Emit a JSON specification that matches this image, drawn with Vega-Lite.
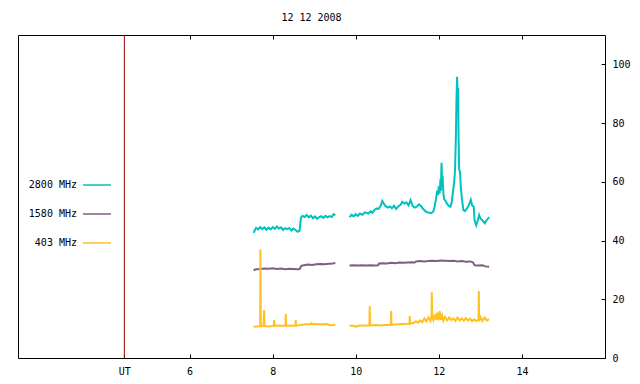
{
  "$schema": "https://vega.github.io/schema/vega-lite/v6.json",
  "width": 587,
  "height": 323,
  "autosize": {"type": "none"},
  "padding": {"left": 18, "top": 35, "right": 35, "bottom": 26},
  "background": "white",
  "config": {
    "view": {"stroke": "#000000", "strokeWidth": 1},
    "font": "DejaVu Sans Mono",
    "title": {"font": "DejaVu Sans Mono", "fontSize": 10, "fontWeight": "normal", "color": "#000000", "offset": 12},
    "axis": {"labelFont": "DejaVu Sans Mono", "labelFontSize": 10, "labelColor": "#000000", "tickColor": "#000000", "domain": false, "grid": false, "title": null}
  },
  "title": {"text": "12 12 2008", "anchor": "middle", "frame": "group"},
  "datasets": {
    "flux": [
      {"band": "2800 MHz", "seg": "a", "t": 7.54, "v": 42.6},
      {"band": "2800 MHz", "seg": "a", "t": 7.57, "v": 43.5},
      {"band": "2800 MHz", "seg": "a", "t": 7.60, "v": 44.3},
      {"band": "2800 MHz", "seg": "a", "t": 7.65, "v": 43.8},
      {"band": "2800 MHz", "seg": "a", "t": 7.70, "v": 44.6},
      {"band": "2800 MHz", "seg": "a", "t": 7.75, "v": 43.9},
      {"band": "2800 MHz", "seg": "a", "t": 7.80, "v": 44.5},
      {"band": "2800 MHz", "seg": "a", "t": 7.85, "v": 43.7},
      {"band": "2800 MHz", "seg": "a", "t": 7.90, "v": 44.4},
      {"band": "2800 MHz", "seg": "a", "t": 7.95, "v": 43.8},
      {"band": "2800 MHz", "seg": "a", "t": 8.00, "v": 44.6},
      {"band": "2800 MHz", "seg": "a", "t": 8.05, "v": 44.0},
      {"band": "2800 MHz", "seg": "a", "t": 8.10, "v": 44.8},
      {"band": "2800 MHz", "seg": "a", "t": 8.15, "v": 44.1},
      {"band": "2800 MHz", "seg": "a", "t": 8.20, "v": 44.5},
      {"band": "2800 MHz", "seg": "a", "t": 8.25, "v": 43.6},
      {"band": "2800 MHz", "seg": "a", "t": 8.30, "v": 44.2},
      {"band": "2800 MHz", "seg": "a", "t": 8.35, "v": 43.9},
      {"band": "2800 MHz", "seg": "a", "t": 8.40, "v": 44.3},
      {"band": "2800 MHz", "seg": "a", "t": 8.45, "v": 43.4},
      {"band": "2800 MHz", "seg": "a", "t": 8.50, "v": 44.1},
      {"band": "2800 MHz", "seg": "a", "t": 8.55, "v": 43.6},
      {"band": "2800 MHz", "seg": "a", "t": 8.60, "v": 43.0},
      {"band": "2800 MHz", "seg": "a", "t": 8.65, "v": 43.4},
      {"band": "2800 MHz", "seg": "a", "t": 8.68, "v": 47.8},
      {"band": "2800 MHz", "seg": "a", "t": 8.72, "v": 48.4},
      {"band": "2800 MHz", "seg": "a", "t": 8.77, "v": 48.0},
      {"band": "2800 MHz", "seg": "a", "t": 8.82, "v": 48.7},
      {"band": "2800 MHz", "seg": "a", "t": 8.87, "v": 47.9},
      {"band": "2800 MHz", "seg": "a", "t": 8.92, "v": 48.5},
      {"band": "2800 MHz", "seg": "a", "t": 8.97, "v": 47.6},
      {"band": "2800 MHz", "seg": "a", "t": 9.02, "v": 48.2},
      {"band": "2800 MHz", "seg": "a", "t": 9.07, "v": 47.4},
      {"band": "2800 MHz", "seg": "a", "t": 9.12, "v": 48.0},
      {"band": "2800 MHz", "seg": "a", "t": 9.17, "v": 48.3},
      {"band": "2800 MHz", "seg": "a", "t": 9.22, "v": 47.7},
      {"band": "2800 MHz", "seg": "a", "t": 9.27, "v": 48.4},
      {"band": "2800 MHz", "seg": "a", "t": 9.32, "v": 47.9},
      {"band": "2800 MHz", "seg": "a", "t": 9.37, "v": 48.3},
      {"band": "2800 MHz", "seg": "a", "t": 9.42, "v": 48.0},
      {"band": "2800 MHz", "seg": "a", "t": 9.47, "v": 49.0},
      {"band": "2800 MHz", "seg": "a", "t": 9.51, "v": 48.6},
      {"band": "2800 MHz", "seg": "b", "t": 9.85, "v": 48.0},
      {"band": "2800 MHz", "seg": "b", "t": 9.90, "v": 48.8},
      {"band": "2800 MHz", "seg": "b", "t": 9.95, "v": 48.2},
      {"band": "2800 MHz", "seg": "b", "t": 10.00, "v": 49.0},
      {"band": "2800 MHz", "seg": "b", "t": 10.05, "v": 48.4},
      {"band": "2800 MHz", "seg": "b", "t": 10.10, "v": 49.2},
      {"band": "2800 MHz", "seg": "b", "t": 10.16, "v": 48.8},
      {"band": "2800 MHz", "seg": "b", "t": 10.22, "v": 49.6},
      {"band": "2800 MHz", "seg": "b", "t": 10.30, "v": 49.2},
      {"band": "2800 MHz", "seg": "b", "t": 10.36, "v": 50.0},
      {"band": "2800 MHz", "seg": "b", "t": 10.40, "v": 49.4},
      {"band": "2800 MHz", "seg": "b", "t": 10.45, "v": 50.4},
      {"band": "2800 MHz", "seg": "b", "t": 10.50, "v": 50.9},
      {"band": "2800 MHz", "seg": "b", "t": 10.55, "v": 50.8},
      {"band": "2800 MHz", "seg": "b", "t": 10.60, "v": 51.8},
      {"band": "2800 MHz", "seg": "b", "t": 10.64, "v": 53.5},
      {"band": "2800 MHz", "seg": "b", "t": 10.68, "v": 52.5},
      {"band": "2800 MHz", "seg": "b", "t": 10.72, "v": 51.7},
      {"band": "2800 MHz", "seg": "b", "t": 10.77, "v": 51.2},
      {"band": "2800 MHz", "seg": "b", "t": 10.82, "v": 51.6},
      {"band": "2800 MHz", "seg": "b", "t": 10.87, "v": 51.0},
      {"band": "2800 MHz", "seg": "b", "t": 10.92, "v": 51.9},
      {"band": "2800 MHz", "seg": "b", "t": 10.97, "v": 50.8},
      {"band": "2800 MHz", "seg": "b", "t": 11.02, "v": 51.6},
      {"band": "2800 MHz", "seg": "b", "t": 11.08, "v": 52.2},
      {"band": "2800 MHz", "seg": "b", "t": 11.12, "v": 53.2},
      {"band": "2800 MHz", "seg": "b", "t": 11.17, "v": 52.6},
      {"band": "2800 MHz", "seg": "b", "t": 11.22, "v": 53.0},
      {"band": "2800 MHz", "seg": "b", "t": 11.27, "v": 52.0},
      {"band": "2800 MHz", "seg": "b", "t": 11.32, "v": 53.8},
      {"band": "2800 MHz", "seg": "b", "t": 11.37, "v": 51.8},
      {"band": "2800 MHz", "seg": "b", "t": 11.42, "v": 51.2},
      {"band": "2800 MHz", "seg": "b", "t": 11.47, "v": 51.5},
      {"band": "2800 MHz", "seg": "b", "t": 11.52, "v": 52.3},
      {"band": "2800 MHz", "seg": "b", "t": 11.57, "v": 51.8},
      {"band": "2800 MHz", "seg": "b", "t": 11.62, "v": 50.8},
      {"band": "2800 MHz", "seg": "b", "t": 11.67, "v": 50.1},
      {"band": "2800 MHz", "seg": "b", "t": 11.72, "v": 49.6},
      {"band": "2800 MHz", "seg": "b", "t": 11.77, "v": 49.5},
      {"band": "2800 MHz", "seg": "b", "t": 11.82, "v": 49.3},
      {"band": "2800 MHz", "seg": "b", "t": 11.87, "v": 50.0},
      {"band": "2800 MHz", "seg": "b", "t": 11.90, "v": 51.7},
      {"band": "2800 MHz", "seg": "b", "t": 11.93, "v": 54.0},
      {"band": "2800 MHz", "seg": "b", "t": 11.96, "v": 57.0},
      {"band": "2800 MHz", "seg": "b", "t": 11.98, "v": 55.5},
      {"band": "2800 MHz", "seg": "b", "t": 12.00, "v": 58.5},
      {"band": "2800 MHz", "seg": "b", "t": 12.02, "v": 56.0},
      {"band": "2800 MHz", "seg": "b", "t": 12.04, "v": 61.0},
      {"band": "2800 MHz", "seg": "b", "t": 12.05, "v": 57.0},
      {"band": "2800 MHz", "seg": "b", "t": 12.065, "v": 66.5},
      {"band": "2800 MHz", "seg": "b", "t": 12.08, "v": 59.0},
      {"band": "2800 MHz", "seg": "b", "t": 12.09, "v": 62.0},
      {"band": "2800 MHz", "seg": "b", "t": 12.11, "v": 56.0},
      {"band": "2800 MHz", "seg": "b", "t": 12.13, "v": 54.0},
      {"band": "2800 MHz", "seg": "b", "t": 12.16, "v": 53.5},
      {"band": "2800 MHz", "seg": "b", "t": 12.20, "v": 52.5},
      {"band": "2800 MHz", "seg": "b", "t": 12.24, "v": 51.8},
      {"band": "2800 MHz", "seg": "b", "t": 12.28, "v": 51.5},
      {"band": "2800 MHz", "seg": "b", "t": 12.31, "v": 53.0},
      {"band": "2800 MHz", "seg": "b", "t": 12.34, "v": 56.5},
      {"band": "2800 MHz", "seg": "b", "t": 12.37, "v": 60.0},
      {"band": "2800 MHz", "seg": "b", "t": 12.39, "v": 64.0},
      {"band": "2800 MHz", "seg": "b", "t": 12.41, "v": 75.0},
      {"band": "2800 MHz", "seg": "b", "t": 12.425, "v": 88.0},
      {"band": "2800 MHz", "seg": "b", "t": 12.44, "v": 95.8},
      {"band": "2800 MHz", "seg": "b", "t": 12.45, "v": 90.0},
      {"band": "2800 MHz", "seg": "b", "t": 12.465, "v": 92.0},
      {"band": "2800 MHz", "seg": "b", "t": 12.475, "v": 75.0},
      {"band": "2800 MHz", "seg": "b", "t": 12.49, "v": 64.0},
      {"band": "2800 MHz", "seg": "b", "t": 12.51, "v": 63.5},
      {"band": "2800 MHz", "seg": "b", "t": 12.53, "v": 58.0},
      {"band": "2800 MHz", "seg": "b", "t": 12.55, "v": 55.0},
      {"band": "2800 MHz", "seg": "b", "t": 12.59, "v": 50.4},
      {"band": "2800 MHz", "seg": "b", "t": 12.63, "v": 50.0},
      {"band": "2800 MHz", "seg": "b", "t": 12.68, "v": 51.0},
      {"band": "2800 MHz", "seg": "b", "t": 12.72, "v": 52.0},
      {"band": "2800 MHz", "seg": "b", "t": 12.77, "v": 53.9},
      {"band": "2800 MHz", "seg": "b", "t": 12.80, "v": 52.0},
      {"band": "2800 MHz", "seg": "b", "t": 12.84, "v": 51.5},
      {"band": "2800 MHz", "seg": "b", "t": 12.86, "v": 47.0},
      {"band": "2800 MHz", "seg": "b", "t": 12.90, "v": 45.2},
      {"band": "2800 MHz", "seg": "b", "t": 12.93, "v": 46.5},
      {"band": "2800 MHz", "seg": "b", "t": 12.97, "v": 48.7},
      {"band": "2800 MHz", "seg": "b", "t": 13.00, "v": 47.5},
      {"band": "2800 MHz", "seg": "b", "t": 13.04, "v": 47.0},
      {"band": "2800 MHz", "seg": "b", "t": 13.08, "v": 46.3},
      {"band": "2800 MHz", "seg": "b", "t": 13.11, "v": 45.9},
      {"band": "2800 MHz", "seg": "b", "t": 13.14, "v": 46.8},
      {"band": "2800 MHz", "seg": "b", "t": 13.17, "v": 47.2},
      {"band": "2800 MHz", "seg": "b", "t": 13.21, "v": 48.0},
      {"band": "1580 MHz", "seg": "a", "t": 7.54, "v": 29.9},
      {"band": "1580 MHz", "seg": "a", "t": 7.60, "v": 30.2},
      {"band": "1580 MHz", "seg": "a", "t": 7.70, "v": 30.3},
      {"band": "1580 MHz", "seg": "a", "t": 7.80, "v": 30.5},
      {"band": "1580 MHz", "seg": "a", "t": 7.90, "v": 30.4},
      {"band": "1580 MHz", "seg": "a", "t": 8.00, "v": 30.6},
      {"band": "1580 MHz", "seg": "a", "t": 8.10, "v": 30.3},
      {"band": "1580 MHz", "seg": "a", "t": 8.20, "v": 30.5},
      {"band": "1580 MHz", "seg": "a", "t": 8.30, "v": 30.2},
      {"band": "1580 MHz", "seg": "a", "t": 8.40, "v": 30.4},
      {"band": "1580 MHz", "seg": "a", "t": 8.50, "v": 30.3},
      {"band": "1580 MHz", "seg": "a", "t": 8.60, "v": 30.2},
      {"band": "1580 MHz", "seg": "a", "t": 8.65, "v": 30.3},
      {"band": "1580 MHz", "seg": "a", "t": 8.69, "v": 31.4},
      {"band": "1580 MHz", "seg": "a", "t": 8.75, "v": 31.6},
      {"band": "1580 MHz", "seg": "a", "t": 8.85, "v": 31.8},
      {"band": "1580 MHz", "seg": "a", "t": 8.95, "v": 31.7},
      {"band": "1580 MHz", "seg": "a", "t": 9.05, "v": 31.9},
      {"band": "1580 MHz", "seg": "a", "t": 9.15, "v": 32.0},
      {"band": "1580 MHz", "seg": "a", "t": 9.25, "v": 31.9},
      {"band": "1580 MHz", "seg": "a", "t": 9.35, "v": 32.1},
      {"band": "1580 MHz", "seg": "a", "t": 9.45, "v": 32.2},
      {"band": "1580 MHz", "seg": "a", "t": 9.51, "v": 32.4},
      {"band": "1580 MHz", "seg": "b", "t": 9.85, "v": 31.5},
      {"band": "1580 MHz", "seg": "b", "t": 9.95, "v": 31.6},
      {"band": "1580 MHz", "seg": "b", "t": 10.05, "v": 31.5},
      {"band": "1580 MHz", "seg": "b", "t": 10.15, "v": 31.6},
      {"band": "1580 MHz", "seg": "b", "t": 10.25, "v": 31.5},
      {"band": "1580 MHz", "seg": "b", "t": 10.35, "v": 31.6},
      {"band": "1580 MHz", "seg": "b", "t": 10.45, "v": 31.5},
      {"band": "1580 MHz", "seg": "b", "t": 10.54, "v": 31.6},
      {"band": "1580 MHz", "seg": "b", "t": 10.56, "v": 32.2},
      {"band": "1580 MHz", "seg": "b", "t": 10.65, "v": 32.3},
      {"band": "1580 MHz", "seg": "b", "t": 10.75, "v": 32.2},
      {"band": "1580 MHz", "seg": "b", "t": 10.85, "v": 32.4},
      {"band": "1580 MHz", "seg": "b", "t": 10.95, "v": 32.3},
      {"band": "1580 MHz", "seg": "b", "t": 11.05, "v": 32.5},
      {"band": "1580 MHz", "seg": "b", "t": 11.15, "v": 32.4},
      {"band": "1580 MHz", "seg": "b", "t": 11.25, "v": 32.5},
      {"band": "1580 MHz", "seg": "b", "t": 11.35, "v": 32.6},
      {"band": "1580 MHz", "seg": "b", "t": 11.42, "v": 32.5},
      {"band": "1580 MHz", "seg": "b", "t": 11.45, "v": 32.9},
      {"band": "1580 MHz", "seg": "b", "t": 11.55, "v": 33.0},
      {"band": "1580 MHz", "seg": "b", "t": 11.65, "v": 32.9},
      {"band": "1580 MHz", "seg": "b", "t": 11.75, "v": 33.0},
      {"band": "1580 MHz", "seg": "b", "t": 11.85, "v": 33.1},
      {"band": "1580 MHz", "seg": "b", "t": 11.95, "v": 33.0},
      {"band": "1580 MHz", "seg": "b", "t": 12.05, "v": 33.2},
      {"band": "1580 MHz", "seg": "b", "t": 12.15, "v": 33.1},
      {"band": "1580 MHz", "seg": "b", "t": 12.25, "v": 33.0},
      {"band": "1580 MHz", "seg": "b", "t": 12.35, "v": 33.1},
      {"band": "1580 MHz", "seg": "b", "t": 12.45, "v": 32.9},
      {"band": "1580 MHz", "seg": "b", "t": 12.55, "v": 33.0},
      {"band": "1580 MHz", "seg": "b", "t": 12.65, "v": 32.8},
      {"band": "1580 MHz", "seg": "b", "t": 12.75, "v": 32.9},
      {"band": "1580 MHz", "seg": "b", "t": 12.82, "v": 32.6},
      {"band": "1580 MHz", "seg": "b", "t": 12.86, "v": 31.6},
      {"band": "1580 MHz", "seg": "b", "t": 12.95, "v": 31.5},
      {"band": "1580 MHz", "seg": "b", "t": 13.05, "v": 31.6},
      {"band": "1580 MHz", "seg": "b", "t": 13.12, "v": 31.2},
      {"band": "1580 MHz", "seg": "b", "t": 13.21, "v": 31.1},
      {"band": "403 MHz", "seg": "a", "t": 7.54, "v": 10.6},
      {"band": "403 MHz", "seg": "a", "t": 7.60, "v": 10.7},
      {"band": "403 MHz", "seg": "a", "t": 7.70, "v": 10.8},
      {"band": "403 MHz", "seg": "a", "t": 7.705, "v": 37.0},
      {"band": "403 MHz", "seg": "a", "t": 7.715, "v": 11.0},
      {"band": "403 MHz", "seg": "a", "t": 7.78, "v": 10.9},
      {"band": "403 MHz", "seg": "a", "t": 7.795, "v": 16.3},
      {"band": "403 MHz", "seg": "a", "t": 7.805, "v": 10.9},
      {"band": "403 MHz", "seg": "a", "t": 7.90, "v": 10.7},
      {"band": "403 MHz", "seg": "a", "t": 7.95, "v": 10.8},
      {"band": "403 MHz", "seg": "a", "t": 8.03, "v": 11.0},
      {"band": "403 MHz", "seg": "a", "t": 8.035, "v": 12.9},
      {"band": "403 MHz", "seg": "a", "t": 8.045, "v": 11.0},
      {"band": "403 MHz", "seg": "a", "t": 8.15, "v": 11.1},
      {"band": "403 MHz", "seg": "a", "t": 8.20, "v": 11.0},
      {"band": "403 MHz", "seg": "a", "t": 8.31, "v": 11.0},
      {"band": "403 MHz", "seg": "a", "t": 8.315, "v": 15.0},
      {"band": "403 MHz", "seg": "a", "t": 8.325, "v": 11.0},
      {"band": "403 MHz", "seg": "a", "t": 8.45, "v": 11.1},
      {"band": "403 MHz", "seg": "a", "t": 8.55, "v": 11.0},
      {"band": "403 MHz", "seg": "a", "t": 8.555, "v": 12.9},
      {"band": "403 MHz", "seg": "a", "t": 8.565, "v": 11.0},
      {"band": "403 MHz", "seg": "a", "t": 8.70, "v": 11.3},
      {"band": "403 MHz", "seg": "a", "t": 8.80, "v": 11.5},
      {"band": "403 MHz", "seg": "a", "t": 8.93, "v": 11.6},
      {"band": "403 MHz", "seg": "a", "t": 8.935, "v": 12.1},
      {"band": "403 MHz", "seg": "a", "t": 8.945, "v": 11.5},
      {"band": "403 MHz", "seg": "a", "t": 9.05, "v": 11.6},
      {"band": "403 MHz", "seg": "a", "t": 9.20, "v": 11.4},
      {"band": "403 MHz", "seg": "a", "t": 9.30, "v": 11.6},
      {"band": "403 MHz", "seg": "a", "t": 9.40, "v": 11.1},
      {"band": "403 MHz", "seg": "a", "t": 9.51, "v": 11.4},
      {"band": "403 MHz", "seg": "b", "t": 9.85, "v": 11.0},
      {"band": "403 MHz", "seg": "b", "t": 9.95, "v": 11.0},
      {"band": "403 MHz", "seg": "b", "t": 10.00, "v": 10.6},
      {"band": "403 MHz", "seg": "b", "t": 10.05, "v": 11.0},
      {"band": "403 MHz", "seg": "b", "t": 10.20, "v": 11.1},
      {"band": "403 MHz", "seg": "b", "t": 10.33, "v": 11.1},
      {"band": "403 MHz", "seg": "b", "t": 10.337, "v": 17.7},
      {"band": "403 MHz", "seg": "b", "t": 10.345, "v": 11.1},
      {"band": "403 MHz", "seg": "b", "t": 10.50, "v": 11.2},
      {"band": "403 MHz", "seg": "b", "t": 10.60, "v": 11.1},
      {"band": "403 MHz", "seg": "b", "t": 10.70, "v": 11.2},
      {"band": "403 MHz", "seg": "b", "t": 10.845, "v": 11.3},
      {"band": "403 MHz", "seg": "b", "t": 10.853, "v": 16.0},
      {"band": "403 MHz", "seg": "b", "t": 10.86, "v": 11.3},
      {"band": "403 MHz", "seg": "b", "t": 11.00, "v": 11.5},
      {"band": "403 MHz", "seg": "b", "t": 11.15, "v": 11.6},
      {"band": "403 MHz", "seg": "b", "t": 11.295, "v": 11.7},
      {"band": "403 MHz", "seg": "b", "t": 11.30, "v": 14.3},
      {"band": "403 MHz", "seg": "b", "t": 11.31, "v": 11.7},
      {"band": "403 MHz", "seg": "b", "t": 11.40, "v": 12.0},
      {"band": "403 MHz", "seg": "b", "t": 11.45, "v": 12.5},
      {"band": "403 MHz", "seg": "b", "t": 11.50, "v": 12.0},
      {"band": "403 MHz", "seg": "b", "t": 11.55, "v": 12.8},
      {"band": "403 MHz", "seg": "b", "t": 11.60, "v": 12.2},
      {"band": "403 MHz", "seg": "b", "t": 11.65, "v": 13.5},
      {"band": "403 MHz", "seg": "b", "t": 11.70, "v": 12.5},
      {"band": "403 MHz", "seg": "b", "t": 11.75, "v": 13.8},
      {"band": "403 MHz", "seg": "b", "t": 11.80, "v": 12.6},
      {"band": "403 MHz", "seg": "b", "t": 11.825, "v": 14.5},
      {"band": "403 MHz", "seg": "b", "t": 11.83, "v": 22.4},
      {"band": "403 MHz", "seg": "b", "t": 11.84, "v": 14.0},
      {"band": "403 MHz", "seg": "b", "t": 11.87, "v": 12.8},
      {"band": "403 MHz", "seg": "b", "t": 11.90, "v": 14.8},
      {"band": "403 MHz", "seg": "b", "t": 11.93, "v": 13.0},
      {"band": "403 MHz", "seg": "b", "t": 11.96, "v": 15.4},
      {"band": "403 MHz", "seg": "b", "t": 11.99, "v": 12.8},
      {"band": "403 MHz", "seg": "b", "t": 12.02, "v": 16.0},
      {"band": "403 MHz", "seg": "b", "t": 12.05, "v": 13.0},
      {"band": "403 MHz", "seg": "b", "t": 12.08, "v": 14.5},
      {"band": "403 MHz", "seg": "b", "t": 12.11, "v": 12.7},
      {"band": "403 MHz", "seg": "b", "t": 12.15, "v": 14.0},
      {"band": "403 MHz", "seg": "b", "t": 12.20, "v": 12.8},
      {"band": "403 MHz", "seg": "b", "t": 12.25, "v": 13.8},
      {"band": "403 MHz", "seg": "b", "t": 12.30, "v": 12.9},
      {"band": "403 MHz", "seg": "b", "t": 12.35, "v": 13.5},
      {"band": "403 MHz", "seg": "b", "t": 12.40, "v": 12.6},
      {"band": "403 MHz", "seg": "b", "t": 12.45, "v": 13.8},
      {"band": "403 MHz", "seg": "b", "t": 12.50, "v": 12.8},
      {"band": "403 MHz", "seg": "b", "t": 12.55, "v": 13.5},
      {"band": "403 MHz", "seg": "b", "t": 12.60, "v": 12.7},
      {"band": "403 MHz", "seg": "b", "t": 12.65, "v": 13.6},
      {"band": "403 MHz", "seg": "b", "t": 12.70, "v": 12.8},
      {"band": "403 MHz", "seg": "b", "t": 12.75, "v": 13.4},
      {"band": "403 MHz", "seg": "b", "t": 12.80, "v": 12.5},
      {"band": "403 MHz", "seg": "b", "t": 12.85, "v": 13.2},
      {"band": "403 MHz", "seg": "b", "t": 12.90, "v": 12.6},
      {"band": "403 MHz", "seg": "b", "t": 12.955, "v": 13.0},
      {"band": "403 MHz", "seg": "b", "t": 12.963, "v": 22.8},
      {"band": "403 MHz", "seg": "b", "t": 12.97, "v": 12.5},
      {"band": "403 MHz", "seg": "b", "t": 13.00, "v": 14.0},
      {"band": "403 MHz", "seg": "b", "t": 13.05, "v": 12.6},
      {"band": "403 MHz", "seg": "b", "t": 13.10, "v": 13.8},
      {"band": "403 MHz", "seg": "b", "t": 13.15, "v": 12.8},
      {"band": "403 MHz", "seg": "b", "t": 13.21, "v": 13.2}
    ],
    "marker": [{"t": 4.43}]
  },
  "layer": [
    {
      "data": {"name": "flux"},
      "mark": {"type": "line", "strokeWidth": 2, "interpolate": "linear"},
      "encoding": {
        "x": {
          "field": "t", "type": "quantitative",
          "scale": {"domain": [1.87, 16], "nice": false, "zero": false},
          "axis": {"orient": "bottom", "values": [4.43, 6, 8, 10, 12, 14], "labelExpr": "datum.value < 5 ? 'UT' : datum.label", "tickSize": -4, "labelPadding": 12, "labelFlush": false}
        },
        "y": {
          "field": "v", "type": "quantitative",
          "scale": {"domain": [0, 110], "nice": false, "zero": true},
          "axis": {"orient": "right", "values": [0, 20, 40, 60, 80, 100], "tickSize": -4, "labelPadding": 11, "labelAlign": "left", "labelFlush": false}
        },
        "color": {
          "field": "band", "type": "nominal",
          "scale": {"domain": ["2800 MHz", "1580 MHz", "403 MHz"], "range": ["#00c0c0", "#7f5f7f", "#ffc020"]},
          "legend": {
            "orient": "none", "legendX": 64, "legendY": 135, "title": null,
            "symbolType": "stroke", "symbolSize": 784, "symbolStrokeWidth": 1.5,
            "labelAlign": "right", "labelOffset": -35, "labelFont": "DejaVu Sans Mono", "labelFontSize": 10, "labelColor": "#000000",
            "rowPadding": 9, "padding": 0
          }
        },
        "detail": {"field": "seg", "type": "nominal"}
      }
    },
    {
      "data": {"name": "marker"},
      "mark": {"type": "rule", "color": "#a00000", "strokeWidth": 1},
      "encoding": {
        "x": {
          "field": "t", "type": "quantitative",
          "axis": {"orient": "top", "values": [6, 8, 10, 12, 14], "labels": false, "tickSize": -4}
        }
      }
    }
  ],
  "resolve": {"axis": {"x": "independent"}}
}
